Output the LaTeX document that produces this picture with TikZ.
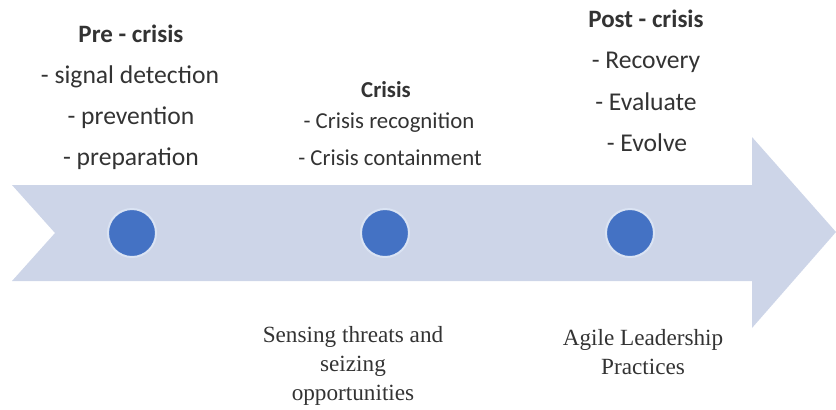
\documentclass[tikz,border=0pt]{standalone}
\usepackage{fontspec}
\setmainfont{Liberation Serif}
\newfontfamily\calib{Carlito}
\definecolor{arrowfill}{RGB}{205,213,232}
\definecolor{dotblue}{RGB}{68,114,196}

\begin{document}
\begin{tikzpicture}
        [x=0.5pt,y=-0.5pt]
            \tikzstyle{every node}=[inner sep=0pt, text=black!80]
            \tikzstyle{phase}=[circle, fill=dotblue, draw=white!80!dotblue,
        line width=1pt, minimum size=24pt]
            \tikzstyle{phasetitle}=[anchor=base, font=\calib\bfseries\fontsize{12.5}{14}\selectfont]
            \tikzstyle{phaseitem}=[anchor=base, font=\calib\fontsize{12.8}{14}\selectfont]
            \tikzstyle{crisisitem}=[anchor=base, font=\calib\fontsize{11.4}{13}\selectfont]
            \tikzstyle{note}=[align=center, font=\fontsize{11.6}{14.4}\selectfont]
        \useasboundingbox (0,0) rectangle (836,409);

        %-----arrow
         \fill[arrowfill] (12,185) -- (752,185) -- (752,137) -- (836,232)
               -- (752,328) -- (752,281) -- (12,281) -- (55,233) -- cycle;

        %-----dots
         \node[phase]  (pre)  at (132,233) {};
         \node[phase]  (cri)  at (385,233) {};
         \node[phase]  (post) at (630,233) {};

        %-----pre-crisis
         \node[phasetitle]  (preT)  at (131,42)  {Pre - crisis};
         \node[phaseitem]   (preA)  at (130,83)  {- signal detection};
         \node[phaseitem]   (preB)  at (131,124) {- prevention};
         \node[phaseitem]   (preC)  at (131,165) {- preparation};

        %-----crisis
         \node[phasetitle, font=\calib\bfseries\fontsize{11.4}{13}\selectfont]  (criT)  at (386,97)  {Crisis};
         \node[crisisitem]  (criA)  at (389,128) {- Crisis recognition};
         \node[crisisitem]  (criB)  at (390,165) {- Crisis containment};

        %-----post-crisis
         \node[phasetitle]  (postT) at (646,27)  {Post - crisis};
         \node[phaseitem]   (postA) at (646,68)  {- Recovery};
         \node[phaseitem]   (postB) at (646,110) {- Evaluate};
         \node[phaseitem]   (postC) at (647,151) {- Evolve};

        %-----notes below (base = last line)
         \node[note, anchor=base]  (sense) at (353,400) {Sensing threats and\\ seizing\\ opportunities};
         \node[note, anchor=base]  (agile) at (643,374) {Agile Leadership\\ Practices};

        \end{tikzpicture}
\end{document}
